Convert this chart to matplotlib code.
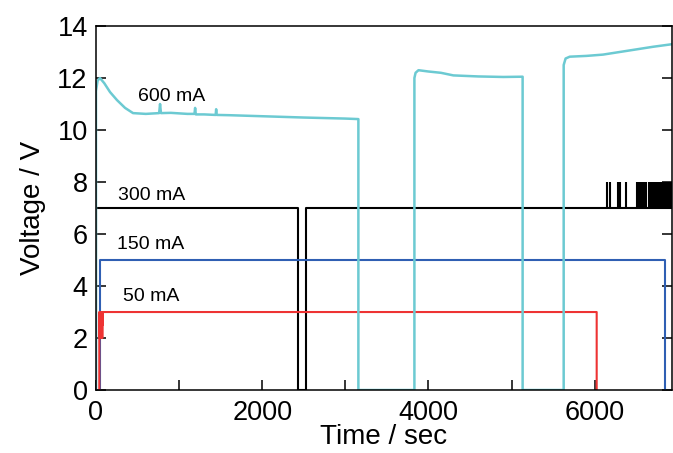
import matplotlib
matplotlib.use("Agg")
import matplotlib.pyplot as plt
from matplotlib.ticker import MultipleLocator, FuncFormatter

plt.rcParams['font.family'] = ['Liberation Sans', 'DejaVu Sans']

# 600 mA (cyan)
t600 = [0, 0, 20, 48, 100, 169, 253, 350, 446, 600, 760, 771, 782, 900, 1100, 1185, 1193, 1201,
        1300, 1440, 1446, 1452, 1600, 2000, 2500, 3000, 3157, 3157, 3831, 3831, 3845, 3880,
        4000, 4150, 4300, 4600, 4900, 5133, 5133, 5627, 5627, 5650, 5700, 5900, 6100,
        6300, 6500, 6700, 6930]
v600 = [0, 11.5, 11.9, 12.0, 11.8, 11.46, 11.15, 10.85, 10.65, 10.62, 10.65, 11.0, 10.65, 10.66,
        10.62, 10.62, 10.85, 10.6, 10.6, 10.58, 10.8, 10.58, 10.57, 10.53, 10.48, 10.44, 10.42,
        0, 0, 12.0, 12.2, 12.3, 12.25, 12.2, 12.1, 12.06, 12.04, 12.05, 0, 0, 12.5,
        12.75, 12.82, 12.85, 12.9, 13.0, 13.1, 13.2, 13.3]

# 300 mA (black)
t300 = [0, 0, 2434, 2434, 2530, 2530, 6930]
v300 = [0, 7, 7, 0, 0, 7, 7]
spikes300 = [6153, 6185, 6282, 6306, 6378, 6515, 6525, 6535, 6545, 6555, 6565, 6575, 6585,
             6595, 6605, 6614, 6654, 6664, 6674, 6684, 6694, 6704, 6714, 6724, 6734, 6744,
             6754, 6764, 6774, 6784, 6794, 6804, 6814, 6824, 6834, 6844, 6854, 6864, 6874,
             6884, 6894, 6904, 6914, 6924]
spike_top = 8.0

# 150 mA (blue)
t150 = [48, 48, 6843, 6843]
v150 = [0, 5, 5, 0]

# 50 mA (red)
t50 = [40, 40, 45, 48, 52, 56, 60, 64, 68, 72, 76, 80, 84, 84, 6024, 6024]
v50 = [0, 3, 2.0, 3, 2.0, 3, 2.0, 3, 2.0, 3, 2.0, 3, 2.5, 3, 3, 0]

labels = ["600 mA", "300 mA", "150 mA", "50 mA"]
label_pos = [(506, 11.27), (265, 7.5), (253, 5.58), (325, 3.58)]

fig = plt.figure(figsize=(6.73, 4.53), dpi=100)
ax = fig.add_axes([0.1426, 0.139, 0.8559, 0.8036])

ax.plot(t300, v300, color='black', lw=1.5)
ax.vlines(spikes300, 7, spike_top, color='black', lw=1.5)
ax.plot(t150, v150, color='#2f5fb3', lw=1.5)
ax.plot(t50, v50, color='#ee3333', lw=1.5)
ax.plot(t600, v600, color='#6ccad2', lw=1.8)

for lab, (x, y) in zip(labels, label_pos):
    ax.text(x, y, lab, fontsize=14, ha='left', va='center')

ax.set_xlim(0, 6930)
ax.set_ylim(0, 14)
ax.xaxis.set_major_locator(MultipleLocator(1000))
ax.xaxis.set_major_formatter(FuncFormatter(lambda v, p: f"{int(v)}" if int(round(v)) % 2000 == 0 else ""))
ax.yaxis.set_major_locator(MultipleLocator(2))
ax.tick_params(axis='both', direction='in', labelsize=19.5, width=1.1, length=7)
ax.tick_params(axis='y', right=True, pad=6)
ax.tick_params(axis='x', pad=7)
for s in ax.spines.values():
    s.set_linewidth(1.1)
ax.set_xlabel("Time / sec", fontsize=20, labelpad=-1)
ax.set_ylabel("Voltage / V", fontsize=20, labelpad=8)

fig.savefig("out.png", dpi=100)
